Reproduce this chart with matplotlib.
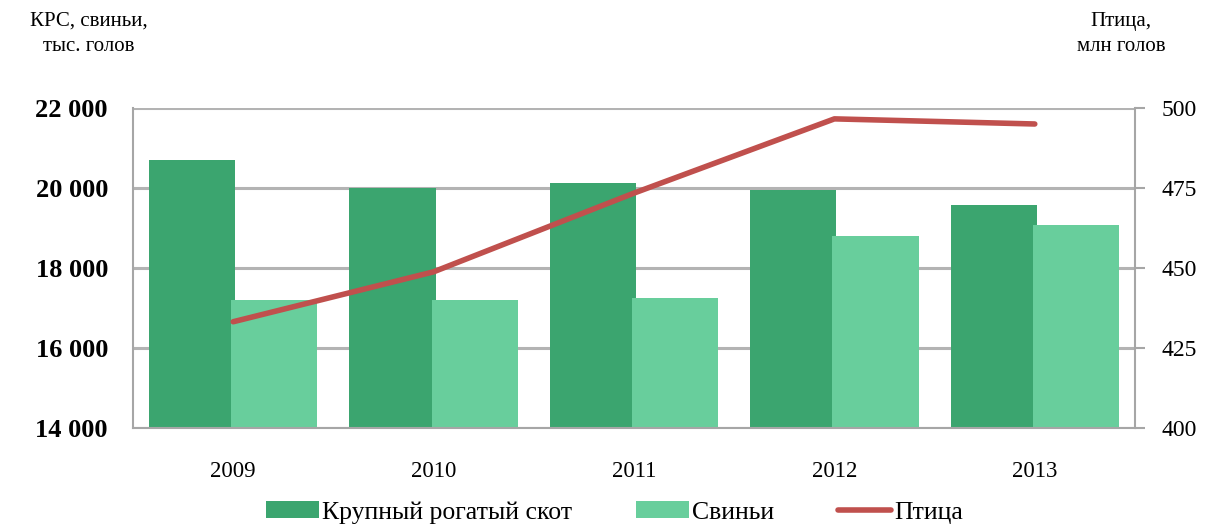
import matplotlib.pyplot as plt
import numpy as np
from matplotlib.ticker import FuncFormatter

plt.rcParams['font.family'] = ['Liberation Serif', 'DejaVu Serif']

years = ["2009", "2010", "2011", "2012", "2013"]
cattle = [20700, 19990, 20130, 19950, 19580]   # тыс. голов
pigs = [17200, 17200, 17250, 18800, 19080]     # тыс. голов
poultry = [433.2, 448.8, 473.4, 496.6, 495.0]  # млн голов

x = np.arange(len(years))
w = 0.43

fig = plt.figure(figsize=(12.29, 5.25), dpi=100)
ax = fig.add_axes([0.1082, 0.1848, 0.8153, 0.6095])

ax.bar(x - w / 2 + 0.01, cattle, w, color="#3BA56F", zorder=2, label="Крупный рогатый скот")
ax.bar(x + w / 2 - 0.01, pigs, w, color="#68CE9C", zorder=2, label="Свиньи")

ax.set_xlim(-0.5, 4.5)
ax.set_ylim(14000, 22000)
ax.set_yticks(range(14000, 22001, 2000))
ax.yaxis.set_major_formatter(FuncFormatter(lambda v, p: f"{int(v):,}".replace(",", " ")))
ax.yaxis.grid(True, color="#B3B3B3", linewidth=2.2, zorder=0)
ax.set_axisbelow(True)
ax.set_xticks(x)
ax.set_xticklabels(years)
ax.tick_params(axis="x", length=0, pad=24, labelsize=16.5)
ax.tick_params(axis="y", length=0, pad=18, labelsize=19)
for lab in ax.get_yticklabels():
    lab.set_fontweight("bold")
for side in ["left", "right", "top", "bottom"]:
    ax.spines[side].set_color("#A6A6A6")
    ax.spines[side].set_linewidth(1.5)
ax.spines["top"].set_visible(False)

ax2 = ax.twinx()
ax2.plot(x, poultry, color="#C0504D", linewidth=4, solid_capstyle="round",
         label="Птица", zorder=3)
ax2.set_ylim(400, 500)
ax2.set_yticks(range(400, 501, 25))
ax2.tick_params(axis="y", length=7, width=1.5, color="#A6A6A6", pad=12, labelsize=17)
for side in ["left", "right", "top", "bottom"]:
    ax2.spines[side].set_visible(False)

fig.text(0.072, 0.935, "КРС, свиньи,\nтыс. голов", ha="center", va="center",
         fontsize=15, linespacing=1.45)
fig.text(0.912, 0.935, "Птица,\nмлн голов", ha="center", va="center",
         fontsize=15, linespacing=1.45)

h1, l1 = ax.get_legend_handles_labels()
h2, l2 = ax2.get_legend_handles_labels()
fig.legend(h1 + h2, l1 + l2, loc="center", bbox_to_anchor=(0.5, 0.024), ncol=3,
           frameon=False, fontsize=18.5, handlelength=2.05, handleheight=0.6,
           handletextpad=0.12, columnspacing=2.5, borderpad=0.2)

fig.savefig("out.png", dpi=100)
